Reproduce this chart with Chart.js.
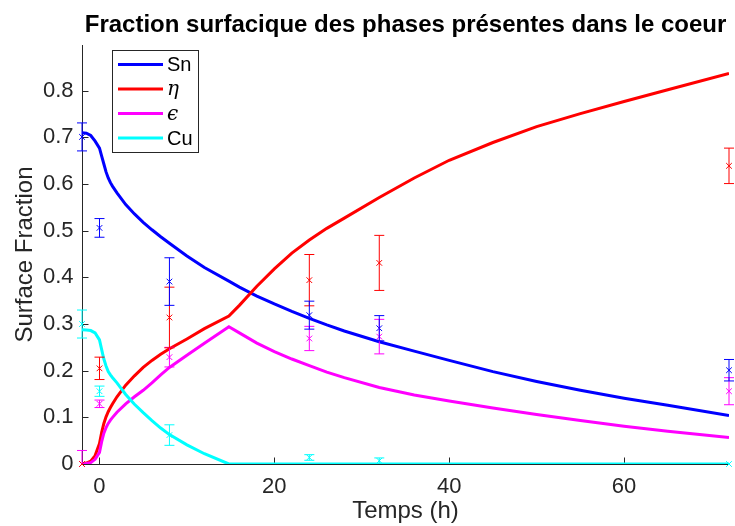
<!DOCTYPE html>
<html>
<head>
<meta charset="utf-8">
<script src="https://cdn.jsdelivr.net/npm/chart.js@4.4.1/dist/chart.umd.min.js"></script>
<style>
  body { margin: 0; background: #fff; }
  canvas { display: block; }
</style>
</head>
<body>
<canvas id="fractionChart" width="735" height="526"></canvas>
<script>
// model curves (time in h)
const tCurve = [-2, -1.5, -1, -0.5, 0, 0.25, 0.5, 0.75, 1, 1.25, 1.5, 2, 3, 4, 5, 6, 7, 8, 10, 12, 14.8, 16, 18, 20, 22, 24, 26, 28, 32, 36, 40, 45, 50, 55, 60, 65, 72];
const snCurve = [0.710, 0.709, 0.704, 0.692, 0.677, 0.660, 0.643, 0.626, 0.613, 0.603, 0.595, 0.581, 0.556, 0.536, 0.518, 0.502, 0.487, 0.473, 0.446, 0.421, 0.392, 0.379, 0.360, 0.343, 0.327, 0.312, 0.298, 0.285, 0.262, 0.242, 0.222, 0.198, 0.177, 0.158, 0.141, 0.126, 0.104];
const etaCurve = [0, 0.002, 0.006, 0.018, 0.044, 0.068, 0.087, 0.101, 0.112, 0.121, 0.129, 0.144, 0.169, 0.189, 0.207, 0.222, 0.235, 0.247, 0.268, 0.290, 0.317, 0.340, 0.381, 0.418, 0.452, 0.480, 0.505, 0.527, 0.571, 0.613, 0.651, 0.689, 0.723, 0.751, 0.777, 0.802, 0.837];
const epsCurve = [0, 0.001, 0.003, 0.010, 0.025, 0.048, 0.066, 0.078, 0.087, 0.094, 0.100, 0.111, 0.129, 0.144, 0.158, 0.174, 0.191, 0.207, 0.233, 0.259, 0.294, 0.281, 0.259, 0.241, 0.225, 0.211, 0.197, 0.185, 0.164, 0.148, 0.135, 0.120, 0.106, 0.093, 0.081, 0.070, 0.057];
const cuCurve = [0.288, 0.287, 0.286, 0.281, 0.266, 0.245, 0.225, 0.210, 0.198, 0.191, 0.185, 0.174, 0.149, 0.128, 0.110, 0.093, 0.077, 0.063, 0.041, 0.022, 0, 0, 0, 0, 0, 0, 0, 0, 0, 0, 0, 0, 0, 0, 0, 0, 0];

// measurements with error bars
const tMeas = [-2, 0, 8, 24, 32, 72];
const snMeas = [0.701, 0.506, 0.391, 0.319, 0.291, 0.201];
const snErr = [0.030, 0.020, 0.051, 0.030, 0.027, 0.023];
const etaMeas = [0, 0.205, 0.314, 0.394, 0.431, 0.639];
const etaErr = [0, 0.024, 0.065, 0.055, 0.059, 0.038];
const epsMeas = [0, 0.129, 0.229, 0.269, 0.273, 0.156];
const epsErr = [0.029, 0.008, 0.021, 0.026, 0.037, 0.029];
const cuMeas = [0.300, 0.156, 0.062, 0.014, 0.007, 0];
const cuErr = [0.030, 0.011, 0.022, 0.006, 0.006, 0];

const xTicks = [0, 20, 40, 60];
const yTicks = [0, 0.1, 0.2, 0.3, 0.4, 0.5, 0.6, 0.7, 0.8];

const AXIS_COLOR = '#262626';
const SANS = '"Liberation Sans", Arial, sans-serif';

const toPoints = (xs, ys) => xs.map((x, i) => ({ x: x, y: ys[i] }));

// each bar = low point, high point, then a gap
const toErrorBars = (vals, errs) => tMeas.flatMap((t, i) =>
    errs[i] > 0 ? [{ x: t, y: vals[i] - errs[i] }, { x: t, y: vals[i] + errs[i] }, { x: t, y: null }] : []);

const curveSet = (label, ys, color, order) => ({
    label: label,
    data: toPoints(tCurve, ys),
    borderColor: color,
    borderWidth: 3,
    pointRadius: 0,
    tension: 0,
    order: order,
    isCurve: true
});

const errorSet = (vals, errs, color) => ({
    data: toErrorBars(vals, errs),
    borderColor: color,
    borderWidth: 1,
    pointStyle: 'line',
    pointRadius: 5,
    pointBorderColor: color,
    pointBorderWidth: 1,
    spanGaps: false,
    clip: { left: 8, right: 8, top: 0, bottom: 0 },
    order: 0
});

const markerSet = (vals, color) => ({
    data: toPoints(tMeas, vals),
    showLine: false,
    pointStyle: 'crossRot',
    pointRadius: 4,
    pointBorderColor: color,
    pointBorderWidth: 1,
    clip: false,
    order: 0
});

const legendLabels = [
    { text: 'Sn', font: '20px ' + SANS },
    { text: 'η', font: 'italic 20px "DejaVu Serif", serif' },
    { text: 'ϵ', font: 'italic 20px "DejaVu Serif", serif' },
    { text: 'Cu', font: '20px ' + SANS }
];

// inward tick marks, drawn under the curves
const innerTicks = {
    id: 'innerTicks',
    beforeDatasetsDraw(chart) {
        const { ctx, chartArea, scales } = chart;
        ctx.save();
        ctx.strokeStyle = AXIS_COLOR;
        ctx.lineWidth = 1;
        ctx.beginPath();
        xTicks.forEach(v => {
            const px = Math.round(scales.x.getPixelForValue(v)) + 0.5;
            ctx.moveTo(px, chartArea.bottom);
            ctx.lineTo(px, chartArea.bottom - 6.5);
        });
        yTicks.forEach(v => {
            const py = Math.round(scales.y.getPixelForValue(v)) + 0.5;
            ctx.moveTo(chartArea.left, py);
            ctx.lineTo(chartArea.left + 6.5, py);
        });
        ctx.stroke();
        ctx.restore();
    }
};

// boxed legend in the upper left of the axes
const boxLegend = {
    id: 'boxLegend',
    afterDatasetsDraw(chart) {
        const { ctx } = chart;
        const curves = chart.data.datasets.filter(d => d.isCurve);
        const box = { x: 112.5, y: 50.5, w: 86, h: 102 };
        ctx.save();
        ctx.fillStyle = '#fff';
        ctx.fillRect(box.x, box.y, box.w, box.h);
        ctx.strokeStyle = AXIS_COLOR;
        ctx.lineWidth = 1;
        ctx.strokeRect(box.x, box.y, box.w, box.h);
        curves.forEach((d, i) => {
            const y = 64.5 + i * 24.5;
            ctx.strokeStyle = d.borderColor;
            ctx.lineWidth = 3;
            ctx.beginPath();
            ctx.moveTo(118, y);
            ctx.lineTo(163, y);
            ctx.stroke();
            ctx.fillStyle = '#000';
            ctx.font = legendLabels[i].font;
            ctx.textBaseline = 'middle';
            ctx.textAlign = 'left';
            ctx.fillText(legendLabels[i].text, 167, y + 1);
        });
        ctx.restore();
    }
};

new Chart(document.getElementById('fractionChart'), {
    type: 'line',
    data: {
        datasets: [
            errorSet(snMeas, snErr, '#0000ff'),
            errorSet(etaMeas, etaErr, '#ff0000'),
            errorSet(epsMeas, epsErr, '#ff00ff'),
            errorSet(cuMeas, cuErr, '#00ffff'),
            markerSet(snMeas, '#0000ff'),
            markerSet(etaMeas, '#ff0000'),
            markerSet(epsMeas, '#ff00ff'),
            markerSet(cuMeas, '#00ffff'),
            curveSet('Sn', snCurve, '#0000ff', 4),
            curveSet('η', etaCurve, '#ff0000', 3),
            curveSet('ϵ', epsCurve, '#ff00ff', 2),
            curveSet('Cu', cuCurve, '#00ffff', 1)
        ]
    },
    options: {
        responsive: false,
        animation: false,
        events: [],
        layout: { padding: { left: 0, right: 5, top: 0, bottom: 0 } },
        plugins: {
            legend: { display: false },
            tooltip: { enabled: false },
            title: {
                display: true,
                fullSize: false,
                text: 'Fraction surfacique des phases présentes dans le coeur',
                color: '#000',
                font: { family: SANS, size: 24, weight: 'bold' },
                padding: { top: 11, bottom: 5.2 }
            }
        },
        scales: {
            x: {
                type: 'linear',
                min: -2,
                max: 72,
                afterBuildTicks: scale => { scale.ticks = xTicks.map(v => ({ value: v })); },
                afterFit: scale => { scale.height = 62; },
                grid: { drawOnChartArea: false, drawTicks: false },
                border: { display: true, color: AXIS_COLOR, width: 1 },
                ticks: {
                    color: AXIS_COLOR,
                    padding: 10,
                    maxRotation: 0,
                    font: { family: SANS, size: 22 }
                },
                title: {
                    display: true,
                    text: 'Temps (h)',
                    color: AXIS_COLOR,
                    padding: { top: 0, bottom: 0 },
                    font: { family: SANS, size: 24 }
                }
            },
            y: {
                type: 'linear',
                min: 0,
                max: 0.898,
                afterBuildTicks: scale => { scale.ticks = yTicks.map(v => ({ value: v })); },
                afterFit: scale => { scale.width = 82; },
                grid: { drawOnChartArea: false, drawTicks: false },
                border: { display: true, color: AXIS_COLOR, width: 1 },
                ticks: {
                    color: AXIS_COLOR,
                    padding: 8.5,
                    callback: v => String(Math.round(v * 10) / 10),
                    font: { family: SANS, size: 22 }
                },
                title: {
                    display: true,
                    text: 'Surface Fraction',
                    color: AXIS_COLOR,
                    padding: { top: 10.5, bottom: 0 },
                    font: { family: SANS, size: 24 }
                }
            }
        }
    },
    plugins: [innerTicks, boxLegend]
});
</script>
</body>
</html>
